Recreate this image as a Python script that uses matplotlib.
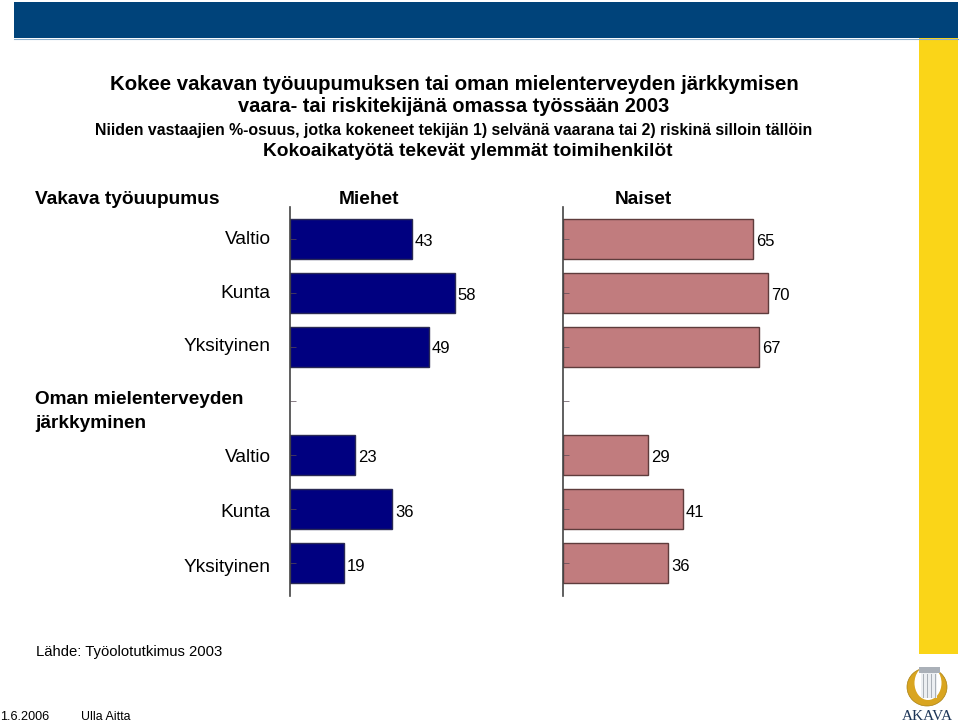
import matplotlib
matplotlib.use("Agg")
import matplotlib.pyplot as plt
from matplotlib.patches import Rectangle, Ellipse

plt.rcParams["font.family"] = ["Liberation Sans", "DejaVu Sans"]

# rivit: 0-2 vakava työuupumus, 3 tyhjä, 4-6 mielenterveys
rivit = [0, 1, 2, 4, 5, 6]
miehet = [43, 58, 49, 23, 36, 19]
naiset = [65, 70, 67, 29, 41, 36]
rivi_nimet = ["Valtio", "Kunta", "Yksityinen", "Valtio", "Kunta", "Yksityinen"]

otsikot = [
    ("Kokee vakavan työuupumuksen tai oman mielenterveyden järkkymisen", 454, 85, 14.7),
    ("vaara- tai riskitekijänä omassa työssään 2003", 453.5, 106, 14.4),
    ("Niiden vastaajien %-osuus, jotka kokeneet tekijän 1) selvänä vaarana tai 2) riskinä silloin tällöin", 454, 131, 11.46),
    ("Kokoaikatyötä tekevät ylemmät toimihenkilöt", 467.5, 152, 13.75),
]

W, H = 960, 726
fig = plt.figure(figsize=(W / 100, H / 100), dpi=100)

# tausta pikseleissä
bg = fig.add_axes([0, 0, 1, 1])
bg.set_xlim(0, W)
bg.set_ylim(H, 0)
bg.axis("off")
bg.add_patch(Rectangle((14, 2), 944, 36, fc="#00437a", ec="none"))
bg.plot([14, 958], [38.5, 38.5], color="#8fb0cc", lw=0.8)
bg.add_patch(Rectangle((919, 38), 39, 616, fc="#fad518", ec="none"))

# AKAVA logo, karkeasti
bg.add_patch(Ellipse((927, 687), 40, 38, fc="#d9a520", ec="#a87f10", lw=0.5))
bg.add_patch(Ellipse((928, 683), 27, 34, fc="white", ec="none"))
bg.add_patch(Rectangle((921, 672), 16, 26, fc="#eceff2", ec="none"))
bg.add_patch(Rectangle((919, 667), 21, 6, fc="#aab0b8", ec="none"))
for xp in (923, 927, 931, 935):
    bg.plot([xp, xp], [674, 697], color="#a8aeb6", lw=0.7)
bg.text(927.5, 716, "AKAVA", ha="center", va="center", family="Liberation Serif",
        fontsize=11, color="#1d3557")

for teksti, x, y, koko in otsikot:
    bg.text(x, y, teksti, ha="center", va="center", fontweight="bold", fontsize=koko)

bg.text(35, 200, "Vakava työuupumus", va="center", fontweight="bold", fontsize=13.75)
bg.text(369, 200, "Miehet", ha="center", va="center", fontweight="bold", fontsize=13.75)
bg.text(643, 199.5, "Naiset", ha="center", va="center", fontweight="bold", fontsize=13.75)
bg.text(35, 399.5, "Oman mielenterveyden", va="center", fontweight="bold", fontsize=13.65)
bg.text(35, 424, "järkkyminen", va="center", fontweight="bold", fontsize=13.65)
bg.text(36, 652, "Lähde: Työolotutkimus 2003", va="center", fontsize=10.7)
bg.text(0.5, 717, "1.6.2006", va="center", fontsize=9.1)
bg.text(81, 717, "Ulla Aitta", va="center", fontsize=8.9)

# arvot hieman rivin keskeltä alaspäin kuten alkuperäisessä
arvo_dy = [-2, -2, -1.2, -2, -2.7, -2.7]


def paneeli(x0, x1, arvot, vari, reuna, skaala):
    ax = fig.add_axes([x0 / W, 1 - 595.5 / H, (x1 - x0) / W, (595.5 - 206.5) / H])
    ax.patch.set_alpha(0)
    ax.barh(rivit, arvot, height=0.74, color=vari, edgecolor=reuna, linewidth=1)
    ax.set_xlim(0, (x1 - x0) / skaala)
    ax.set_ylim(6.6, -0.6)
    ax.set_yticks(range(7))
    ax.set_yticklabels([])
    ax.set_xticks([])
    ax.tick_params(axis="y", direction="in", length=4, width=0.5, color="#5a4a55")
    for s in ("top", "right", "bottom"):
        ax.spines[s].set_visible(False)
    ax.spines["left"].set_color("#444444")
    ax.spines["left"].set_linewidth(1.2)
    for r, a, dy in zip(rivit, arvot, arvo_dy):
        ax.annotate(str(a), (a, r), xytext=(2, dy), textcoords="offset points",
                    va="center", fontsize=12)
    return ax


ax1 = paneeli(289.5, 540, miehet, "#000080", "#2a2a55", 2.853)
ax2 = paneeli(563, 860, naiset, "#c17c7e", "#5e3c3c", 2.928)

# alemmat rivinimet ovat vähän alempana
nimi_dy = [-0.7, -0.7, 0.3, -1.7, -2.3, -3]
for r, nimi, dy in zip(rivit, rivi_nimet, nimi_dy):
    ax1.annotate(nimi, (0, r), xytext=(-13.5, dy), textcoords="offset points",
                 ha="right", va="center", fontsize=13.75)

fig.savefig("out.png", dpi=100)
